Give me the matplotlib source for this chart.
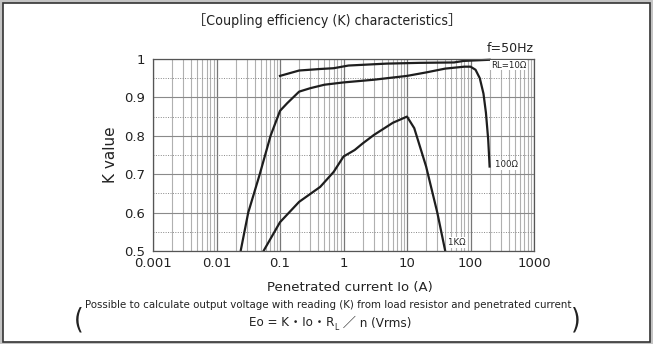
import matplotlib
matplotlib.use("Agg")
import matplotlib.pyplot as plt
from matplotlib.patches import Rectangle
from matplotlib.ticker import FixedLocator, LogLocator, NullFormatter
import numpy as np

# curves (current in A, K value)
x_10 = [0.1, 0.2, 0.43, 0.7, 1.2, 4.8, 16, 55, 78, 200]
k_10 = [0.956, 0.970, 0.974, 0.976, 0.983, 0.988, 0.990, 0.991, 0.995, 0.998]

x_100 = [0.024, 0.0316, 0.048, 0.071, 0.1, 0.13, 0.2, 0.3, 0.5, 1, 3, 10, 20, 40, 80, 100, 120, 140, 160, 175, 190, 200]
k_100 = [0.5, 0.6, 0.7, 0.8, 0.865, 0.885, 0.915, 0.924, 0.933, 0.939, 0.946, 0.956, 0.965, 0.975, 0.980, 0.980, 0.972, 0.950, 0.91, 0.86, 0.79, 0.72]

x_1k = [0.055, 0.1, 0.2, 0.43, 0.7, 1, 1.5, 2, 3, 6, 10, 13, 20, 30, 40]
k_1k = [0.5, 0.575, 0.628, 0.667, 0.706, 0.746, 0.763, 0.78, 0.802, 0.834, 0.850, 0.82, 0.72, 0.60, 0.5]

x_ticks = [0.001, 0.01, 0.1, 1, 10, 100, 1000]
x_ticklabels = ["0.001", "0.01", "0.1", "1", "10", "100", "1000"]
y_ticks = [0.5, 0.6, 0.7, 0.8, 0.9, 1.0]
y_ticklabels = ["0.5", "0.6", "0.7", "0.8", "0.9", "1"]
y_minor = [0.55, 0.65, 0.75, 0.85, 0.95]

narrow = ["DejaVu Sans", "Noto Sans CJK JP"]

W, H = 653, 344
fig = plt.figure(figsize=(W / 100, H / 100), dpi=100, facecolor="#c4c4c4")

# white panel with dark border
fig.patches.append(Rectangle((3 / W, 2.5 / H), (W - 6) / W, (H - 5) / H, transform=fig.transFigure,
                             facecolor="white", edgecolor="#333333", linewidth=1.2, zorder=-5))

ax = fig.add_axes([153 / W, 1 - 251 / H, (534 - 153) / W, (251 - 59) / H])
ax.set_xscale("log")
ax.set_xlim(0.001, 1000)
ax.set_ylim(0.5, 1.0)

ax.xaxis.set_major_locator(FixedLocator(x_ticks))
ax.set_xticklabels(x_ticklabels)
ax.xaxis.set_minor_locator(LogLocator(base=10, subs=np.arange(2, 10), numticks=20))
ax.xaxis.set_minor_formatter(NullFormatter())
ax.yaxis.set_major_locator(FixedLocator(y_ticks))
ax.set_yticklabels(y_ticklabels)
ax.yaxis.set_minor_locator(FixedLocator(y_minor))

ax.grid(True, axis="x", which="major", color="#777777", linewidth=0.9)
ax.grid(True, axis="x", which="minor", color="#b0b0b0", linewidth=0.8)
ax.grid(True, axis="y", which="major", color="#8a8a8a", linewidth=0.8)
ax.grid(True, axis="y", which="minor", color="#888888", linewidth=0.7, linestyle=(0, (1, 1.5)))
ax.set_axisbelow(True)
ax.tick_params(which="both", length=0, labelsize=9.5, colors="#222222")
ax.tick_params(axis="x", pad=4)
ax.tick_params(axis="y", pad=6)
for s in ax.spines.values():
    s.set_color("#555555")
    s.set_linewidth(0.9)

lc = "#1e1e1e"
ax.plot(x_10, k_10, color=lc, linewidth=1.6, clip_on=False)
ax.plot(x_100, k_100, color=lc, linewidth=1.6)
ax.plot(x_1k, k_1k, color=lc, linewidth=1.6)

lab_box = dict(facecolor="white", edgecolor="none", pad=0.6)
ax.text(210, 0.984, "RL=10Ω", fontsize=6.8, stretch="condensed", va="center", ha="left",
        color="#222222", bbox=lab_box)
ax.text(240, 0.724, "100Ω", fontsize=6.8, stretch="condensed", va="center", ha="left",
        color="#222222", bbox=lab_box)
ax.text(44, 0.523, "1KΩ", fontsize=6.8, stretch="condensed", va="center", ha="left",
        color="#222222", bbox=lab_box)

ax.set_ylabel("K value", fontsize=11, labelpad=4, color="#222222")

fig.text(534 / W, 1 - 48 / H, "f=50Hz", fontsize=9, ha="right", va="center", color="#222222")
fig.text(327 / W, 1 - 20 / H, "［Coupling efficiency (K) characteristics］", family=narrow,
         stretch="condensed", fontsize=10.2, ha="center", va="center", color="#222222")
fig.text(350 / W, 1 - 287 / H, "Penetrated current Io (A)", fontsize=9.5, ha="center", va="center",
         color="#222222")
fig.text(328 / W, 1 - 305 / H,
         "Possible to calculate output voltage with reading (K) from load resistor and penetrated current",
         family=narrow, stretch="condensed", fontsize=8.2, ha="center", va="center", color="#222222")

# formula line with a subscript L, built from pieces
renderer = fig.canvas.get_renderer()
y_eq = 1 - 323 / H
parts = [("Eo = K・Io・R", 9.5, 0), ("L", 6.2, -4), (" ／ n (Vrms)", 9.5, 0)]
objs = []
widths = []
for txt, fs, dy in parts:
    t = fig.text(0, y_eq + dy / H, txt, family=narrow, stretch="condensed", fontsize=fs,
                 ha="left", va="center", color="#222222")
    widths.append(t.get_window_extent(renderer).width)
    objs.append(t)
x0 = 330 - sum(widths) / 2
for t, w in zip(objs, widths):
    t.set_x(x0 / W)
    x0 += w

fig.text(79 / W, 1 - 320 / H, "(", family=narrow, stretch="condensed", fontsize=20, ha="center",
         va="center", color="#222222")
fig.text(576 / W, 1 - 320 / H, ")", family=narrow, stretch="condensed", fontsize=20, ha="center",
         va="center", color="#222222")

fig.savefig("out.png", dpi=100, facecolor=fig.get_facecolor())
